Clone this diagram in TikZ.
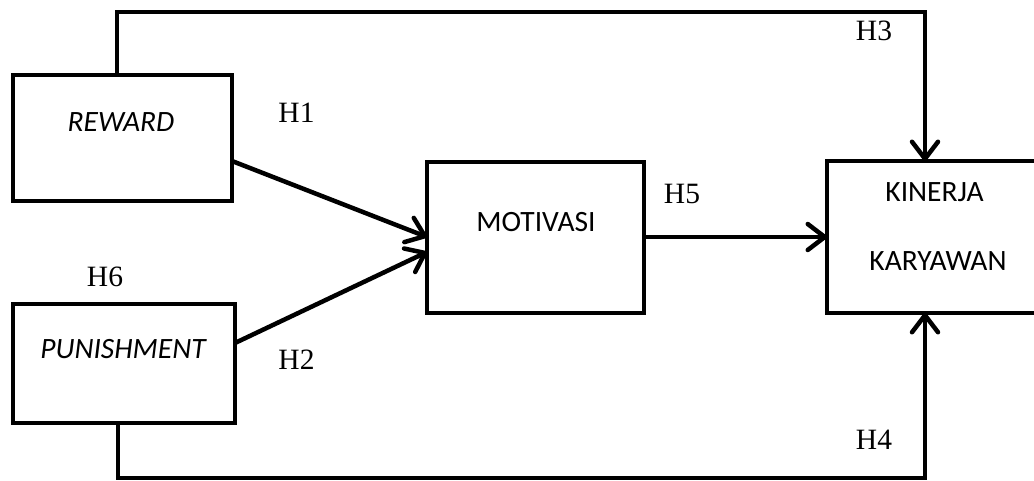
\documentclass[tikz,border=0pt]{standalone}
\usepackage{fontspec}
\setmainfont{Liberation Serif}
\newfontfamily\boxfont{Carlito}
\usetikzlibrary{arrows.meta}
\begin{document}
\begin{tikzpicture}[x=1pt,y=-1pt,
  varbox/.style={draw,line width=4.5pt,minimum width=#1,inner sep=0pt,outer sep=0pt},
  boxtext/.style={font=\boxfont\fontsize{29.5}{31}\selectfont,inner sep=0pt,anchor=base},
  hyp/.style={font=\fontsize{29.5}{31}\selectfont,inner sep=0pt,anchor=base},
  link/.style={line width=4.5pt,-{Straight Barb[length=17pt,width=26pt,round]}}]
  \useasboundingbox (0,0) rectangle (1034,481);
  \clip (0,0) rectangle (1034,481);

  % variable boxes
  \node[varbox=219pt,minimum height=126pt] (reward) at (122.5,138) {};
  \node[varbox=222pt,minimum height=119pt] (punish) at (124,363.5) {};
  \node[varbox=217pt,minimum height=151pt] (motiv) at (535.5,237.5) {};
  \node[varbox=218pt,minimum height=152pt] (kinerja) at (936,237) {};

  % box captions (placed on their baselines)
  \node[boxtext] (treward) at (121,132) {\itshape REWARD};
  \node[boxtext] (tpunish) at (123,358) {\itshape PUNISHMENT};
  \node[boxtext] (tmotiv) at (536,232) {MOTIVASI};
  \node[boxtext] (tkin1) at (934.5,202) {KINERJA};
  \node[boxtext] (tkin2) at (938,271) {KARYAWAN};

  % hypothesis labels
  \node[hyp] (h1) at (296.5,123) {H1};
  \node[hyp] (h2) at (296.5,369) {H2};
  \node[hyp] (h3) at (874,41) {H3};
  \node[hyp] (h4) at (874,449) {H4};
  \node[hyp] (h5) at (682,204) {H5};
  \node[hyp] (h6) at (105,287) {H6};

  % routing corners of the outer paths
  \coordinate (tl) at (117,12);
  \coordinate (tr) at (925,12);
  \coordinate (bl) at (118,478);
  \coordinate (br) at (925,478);

  % direct effects
  \draw[link] (reward.east |- 0,161) -- (motiv.west |- 0,237);
  \draw[link] (punish.east |- 0,343) -- (motiv.west |- 0,252);
  \draw[link] (motiv.east |- 0,237) -- (kinerja.west |- 0,237);
  \draw[link] (reward.north -| tl) -- (tl) -- (tr) -- (kinerja.north -| tr);
  \draw[link] (punish.south -| bl) -- (bl) -- (br) -- (kinerja.south -| br);
\end{tikzpicture}
\end{document}
